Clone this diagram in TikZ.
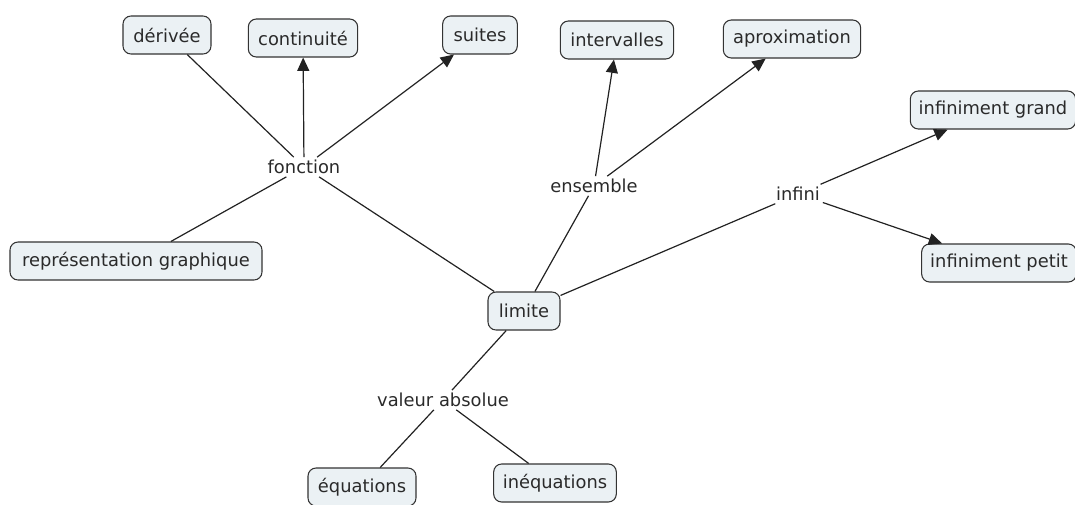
\documentclass[tikz,border=0pt]{standalone}
\usepackage{fontspec}
\setmainfont{DejaVu Sans}
\usetikzlibrary{arrows.meta,positioning}
\definecolor{fondConcept}{HTML}{EBF1F4}
\definecolor{bordConcept}{HTML}{333333}
\definecolor{traitLien}{HTML}{222222}
\definecolor{texteCarte}{HTML}{2A2A2A}

\begin{document}
\begin{tikzpicture}[x=0.75pt, y=-0.75pt,
    concept/.style={rectangle, rounded corners=6pt, draw=bordConcept, line width=0.8pt,
                    fill=fondConcept, inner xsep=0pt, minimum height=28.5pt, text=texteCarte,
                    font=\fontsize{13.4}{15}\selectfont},
    lien/.style={inner sep=2pt, text=texteCarte, font=\fontsize{13.4}{15}\selectfont},
    trait/.style={draw=traitLien, line width=0.9pt},
    fleche/.style={trait, -{Triangle[length=10pt, width=9pt]}}
  ]
  \useasboundingbox (0,0) rectangle (1075,504);

  % Concepts
  \node[concept, minimum width=66pt] (derivee) at (167,35) {dérivée};
  \node[concept, minimum width=82pt] (continuite) at (303,38) {continuité};
  \node[concept, minimum width=56pt] (suites) at (480,35) {suites};
  \node[concept, minimum width=85pt] (intervalles) at (617,40) {intervalles};
  \node[concept, minimum width=103pt] (approx) at (792,39) {aproximation};
  \node[concept, minimum width=124pt] (grand) at (993,110) {infiniment grand};
  \node[concept, minimum width=116pt] (petit) at (999,263) {infiniment petit};
  \node[concept, minimum width=189pt] (repr) at (136,261) {représentation graphique};
  \node[concept, minimum width=54pt] (limite) at (524,311) {limite};
  \node[concept, minimum width=81pt] (equations) at (362,487) {équations};
  \node[concept, minimum width=92pt] (inequations) at (555,483) {inéquations};

  % Mots de liaison
  \node[lien] (fonction) at (304,167) {fonction};
  \node[lien] (ensemble) at (594,186) {ensemble};
  \node[lien] (infini) at (798,194) {infini};
  \node[lien] (valeur) at (443,400) {valeur absolue};

  % Liens simples
  \draw[trait] (derivee) -- (fonction);
  \draw[trait] (repr) -- (fonction);
  \draw[trait] (fonction) -- (limite);
  \draw[trait] (limite) -- (ensemble);
  \draw[trait] (limite) -- (infini);
  \draw[trait] (limite) -- (valeur);
  \draw[trait] (valeur) -- (equations);
  \draw[trait] (valeur) -- (inequations);

  % Liens fléchés
  \foreach \n in {continuite,suites} {
    \draw[fleche] (fonction) -- (\n);
  }
  \foreach \n in {intervalles,approx} {
    \draw[fleche] (ensemble) -- (\n);
  }
  \foreach \n in {grand,petit} {
    \draw[fleche] (infini) -- (\n);
  }
\end{tikzpicture}
\end{document}
